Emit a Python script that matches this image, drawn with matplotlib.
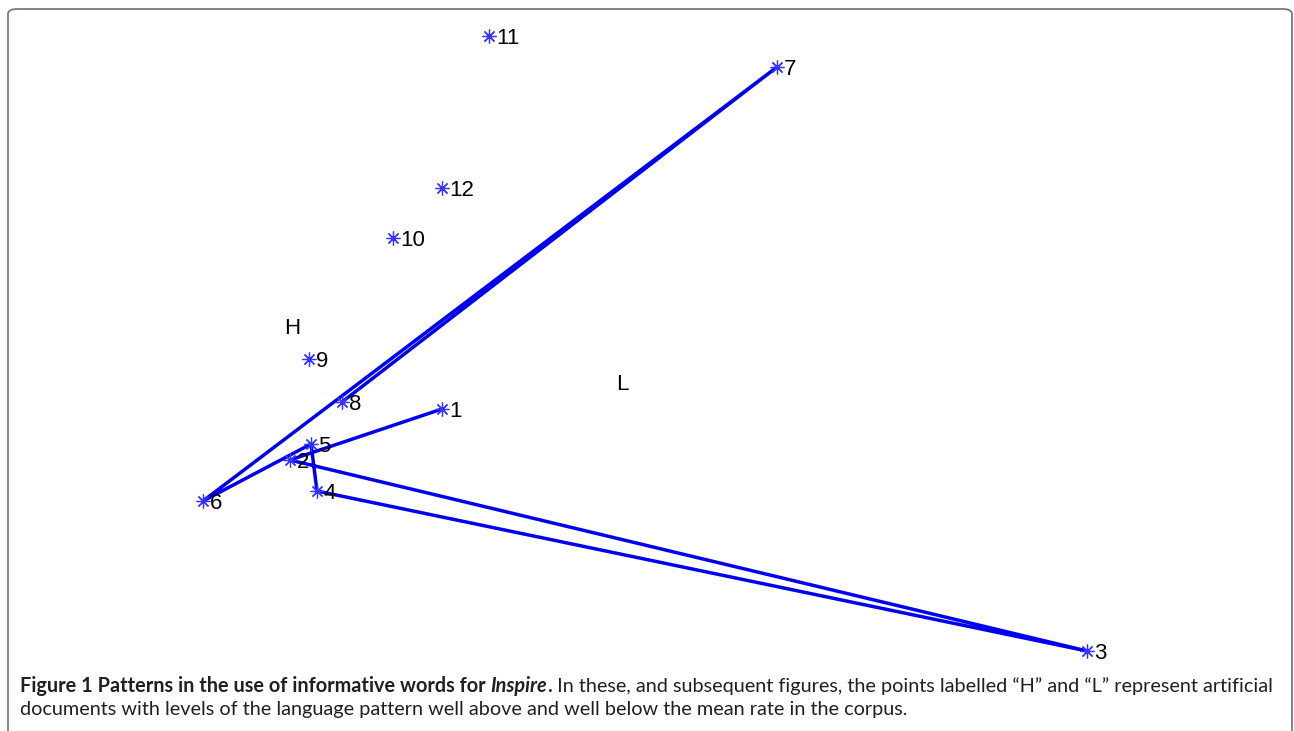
import matplotlib
matplotlib.use("Agg")
import matplotlib.pyplot as plt
from matplotlib.patches import FancyBboxPatch

# document positions on the two pattern axes
labels = ["1", "2", "3", "4", "5", "6", "7", "8", "9", "10", "11", "12"]
xs = [-2.08, -3.60, 4.37, -3.33, -3.39, -4.47, 1.27, -3.08, -3.41, -2.57, -1.61, -2.08]
ys = [-0.44, -0.95, -2.86, -1.26, -0.79, -1.36, 2.98, -0.37, 0.06, 1.27, 3.29, 1.77]
# documents 1..8 are joined in order
path_n = 8
# artificial high / low documents
ref_names = ["H", "L"]
ref_x = [-3.58, -0.28]
ref_y = [0.36, -0.19]

W, H = 1294, 731
fig = plt.figure(figsize=(W / 100, H / 100), dpi=100)
ax = fig.add_axes([0, 0, 1, 1])
ax.set_xlim(-6.5, 6.44)
ax.set_ylim(-3.66, 3.65)
ax.axis("off")

ax.plot(xs[:path_n], ys[:path_n], color="#0000ee", lw=2.5, solid_capstyle="round", zorder=2)
ax.plot(xs, ys, ls="none", marker=(8, 2, 0), ms=10, mew=0.9, color="#3535ff", zorder=3)
for lab, x, y in zip(labels, xs, ys):
    ax.annotate(lab, (x, y), xytext=(5, -1.5), textcoords="offset points",
                va="center", ha="left", fontsize=16, family="Liberation Sans", color="black")
for lab, x, y in zip(ref_names, ref_x, ref_y):
    ax.text(x, y, lab, ha="center", va="center", fontsize=16, family="Liberation Sans")

# rounded frame, open at the bottom
frame = FancyBboxPatch((8 / W, -0.2), 1284 / W, 1 - 9 / H + 0.2, transform=fig.transFigure,
                       boxstyle="round,pad=0,rounding_size=0.007", fill=False,
                       ec="#7a7a7a", lw=1.3, clip_on=False)
fig.add_artist(frame)

# caption, laid out run by run
cap_font = "Lato"
line1 = [("Figure 1 Patterns in the use of informative words for ", "bold", "normal"),
         ("Inspire", "bold", "italic"),
         (".", "bold", "normal"),
         (" In these, and subsequent figures, the points labelled \u201cH\u201d and \u201cL\u201d represent artificial",
          "normal", "normal")]
line2 = [("documents with levels of the language pattern well above and well below the mean rate in the corpus.",
          "normal", "normal")]

fig.canvas.draw()
renderer = fig.canvas.get_renderer()


def run_width(runs, size):
    total = 0
    for txt, wt, st in runs:
        t = fig.text(0, 0, txt, fontsize=size, family=cap_font, weight=wt, style=st)
        total += t.get_window_extent(renderer).width
        t.remove()
    return total


# first line spans the frame from x=20 to x=1274
cap_size = 12.6 * 1254 / run_width(line1, 12.6)

for runs, ypx in [(line1, 686), (line2, 710)]:
    xpx = 20
    for txt, wt, st in runs:
        t = fig.text(xpx / W, 1 - ypx / H, txt, fontsize=cap_size, family=cap_font,
                     weight=wt, style=st, va="center", ha="left", color="#231f20")
        xpx += t.get_window_extent(renderer).width

fig.savefig("out.png", dpi=100)
